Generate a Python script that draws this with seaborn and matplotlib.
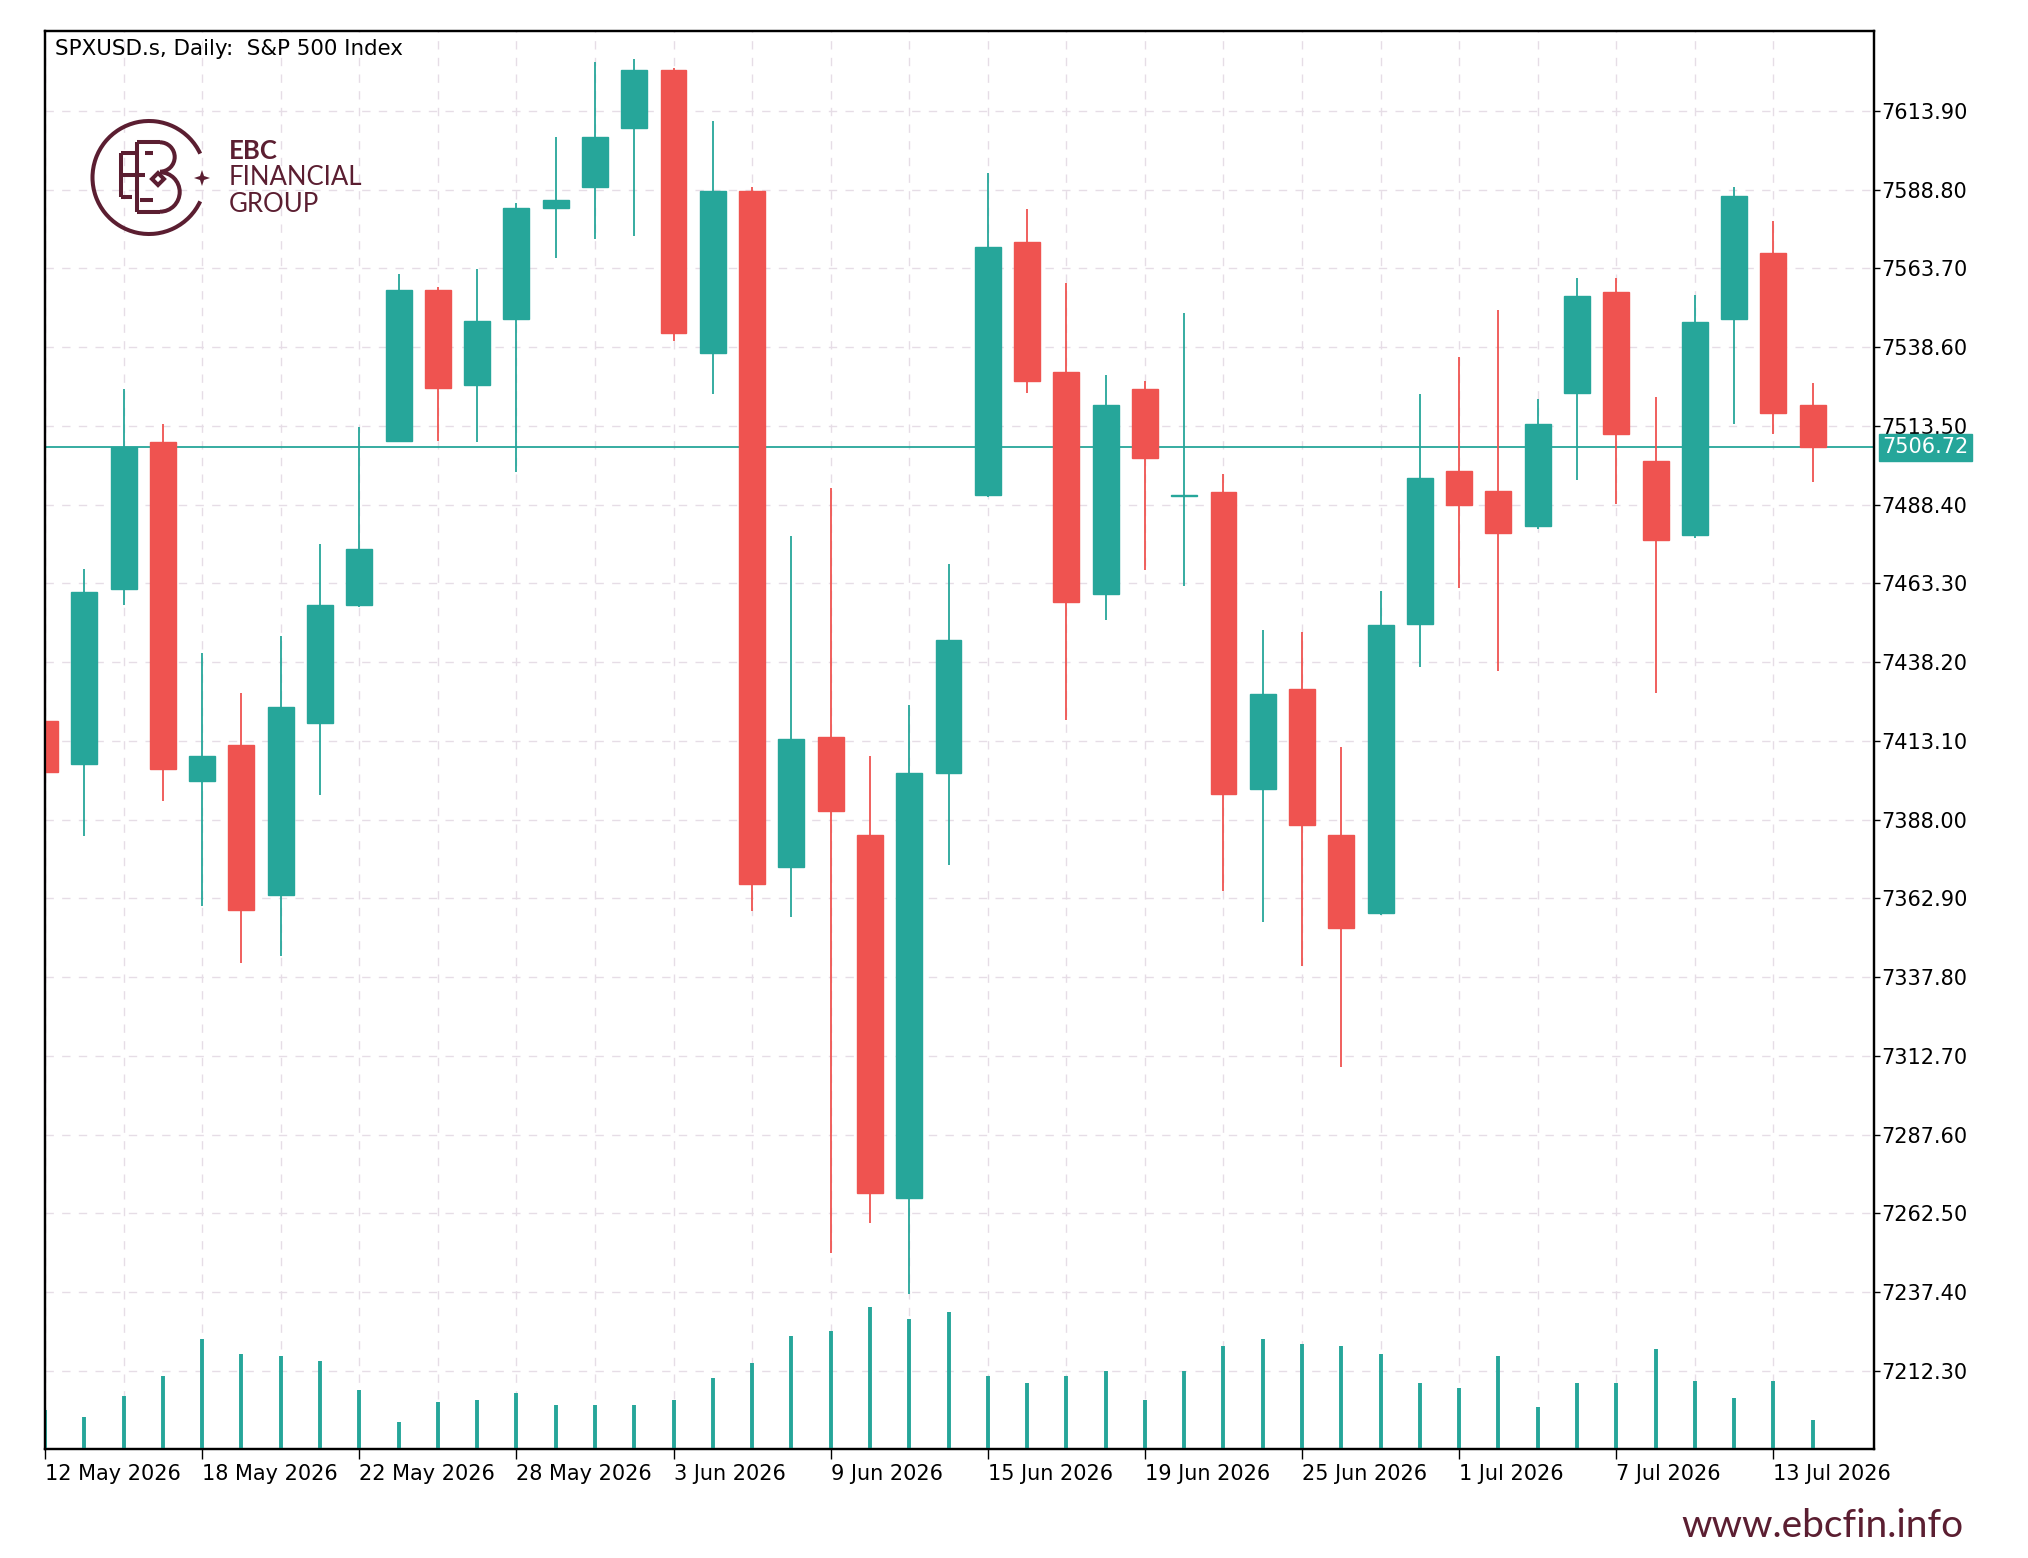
import numpy as np
import pandas as pd
import matplotlib
matplotlib.use("Agg")
import matplotlib.pyplot as plt
import seaborn as sns
from matplotlib.patches import Arc, Polygon

# daily bars, 12 May 2026 .. 14 Jul 2026 (weekdays)
dates = pd.bdate_range("2026-05-12", "2026-07-14")
opens = [7419.4, 7405.8, 7461.4, 7508.4, 7400.4, 7411.9, 7364.1, 7418.9, 7456.5, 7508.8,
         7557.0, 7526.5, 7547.5, 7583.0, 7589.6, 7608.5, 7627.1, 7536.8, 7588.3, 7372.8,
         7414.4, 7383.1, 7267.3, 7402.9, 7491.5, 7572.3, 7530.6, 7459.8, 7525.3, 7491.3,
         7492.3, 7397.9, 7429.7, 7383.1, 7358.4, 7450.3, 7499.3, 7492.7, 7481.6, 7524.1,
         7556.2, 7502.2, 7478.7, 7547.5, 7568.6, 7520.3]
highs = [7423.0, 7468.0, 7525.3, 7514.2, 7441.2, 7428.4, 7446.6, 7475.8, 7513.3, 7562.0,
         7557.8, 7563.6, 7584.6, 7605.7, 7629.6, 7630.4, 7627.5, 7610.6, 7589.6, 7478.3,
         7493.6, 7408.2, 7424.7, 7469.6, 7594.1, 7582.6, 7559.1, 7529.8, 7527.8, 7549.6,
         7498.1, 7448.6, 7447.8, 7411.1, 7461.0, 7523.6, 7535.6, 7550.4, 7522.0, 7560.7,
         7560.7, 7522.8, 7555.4, 7589.6, 7578.9, 7527.3]
lows = [7398.0, 7382.7, 7456.5, 7393.8, 7360.4, 7342.3, 7344.4, 7395.9, 7455.8, 7508.3,
        7508.8, 7508.4, 7498.9, 7566.9, 7573.1, 7573.9, 7540.5, 7523.6, 7358.8, 7357.1,
        7250.0, 7259.5, 7236.8, 7373.6, 7490.7, 7524.1, 7419.8, 7451.5, 7467.6, 7462.6,
        7365.4, 7355.5, 7341.5, 7309.3, 7357.5, 7436.7, 7461.8, 7435.4, 7480.8, 7496.4,
        7488.6, 7428.4, 7477.9, 7514.2, 7510.9, 7495.6]
closes = [7403.3, 7460.6, 7506.7, 7404.1, 7408.2, 7359.2, 7423.9, 7456.5, 7474.2, 7557.0,
          7525.7, 7547.1, 7583.0, 7585.5, 7605.7, 7627.1, 7543.0, 7588.3, 7367.4, 7413.6,
          7390.9, 7268.9, 7402.9, 7445.3, 7570.6, 7527.8, 7457.3, 7520.3, 7503.4, 7491.6,
          7396.3, 7428.0, 7386.4, 7353.4, 7449.9, 7496.9, 7488.2, 7479.5, 7514.2, 7555.0,
          7510.9, 7477.1, 7546.7, 7586.7, 7517.5, 7506.72]
volumes = [30000, 24500, 41500, 56700, 85000, 74000, 72200, 68300, 45600, 20600,
           36100, 37900, 43600, 34000, 34000, 34000, 37900, 54900, 66500, 87400,
           91200, 110000, 100500, 106200, 56700, 51000, 56700, 60500, 37900, 60500,
           79600, 85300, 81400, 79600, 74000, 51000, 47200, 72200, 32200, 51000,
           51000, 77800, 52800, 39700, 52800, 22700]
last_price = 7506.72
price_ticks = [7212.30, 7237.40, 7262.50, 7287.60, 7312.70, 7337.80, 7362.90, 7388.00, 7413.10,
               7438.20, 7463.30, 7488.40, 7513.50, 7538.60, 7563.70, 7588.80, 7613.90]
date_labels = ["12 May 2026", "18 May 2026", "22 May 2026", "28 May 2026", "3 Jun 2026", "9 Jun 2026",
               "15 Jun 2026", "19 Jun 2026", "25 Jun 2026", "1 Jul 2026", "7 Jul 2026", "13 Jul 2026"]

UP = "#26a69a"
DOWN = "#ef5350"
MAROON = "#5b1e31"
GRID = "#e6dde6"

sns.set_theme(style="white")
plt.rcParams["font.family"] = ["DejaVu Sans"]

df = pd.DataFrame({"date": dates, "open": opens, "high": highs, "low": lows,
                   "close": closes, "volume": volumes})
df["x"] = np.arange(len(df))
df["color"] = np.where(df["close"] >= df["open"], UP, DOWN)

fig = plt.figure(figsize=(20.28, 15.58), dpi=100, facecolor="white")
ax = fig.add_axes([45 / 2028, 109 / 1558, 1829 / 2028, 1418 / 1558])
ax.set_facecolor("white")

# volume histogram on a twin axis (above the grid)
axv = ax.twinx()
axv.patch.set_visible(False)
axv.vlines(df["x"], 0, df["volume"], colors=UP, linewidth=2.8)
axv.set_ylim(0, df["volume"].max() / 0.1)
axv.yaxis.set_visible(False)

# candles
ax.vlines(df["x"], df["low"], df["high"], colors=df["color"], linewidth=1.3, zorder=2)
ax.bar(df["x"], (df["close"] - df["open"]).abs(), bottom=df[["open", "close"]].min(axis=1),
       width=0.66, color=df["color"], edgecolor=df["color"], linewidth=1.0, zorder=3)
ax.axhline(last_price, color=UP, linewidth=1.3, zorder=1.5)

ax.set_xlim(0, 46.56)
ax.set_ylim(7187.4, 7639.4)

ax.yaxis.tick_right()
ax.set_yticks(price_ticks)
ax.set_yticklabels([f"{v:.2f}" for v in price_ticks])
ax.tick_params(axis="y", which="major", right=True, left=False, labelright=True, labelleft=False,
               direction="out", length=4, width=1, labelsize=15, pad=1, colors="black")

ax.set_xticks(np.arange(0, len(df), 4))
ax.set_xticklabels(date_labels, ha="left")
ax.set_xticks(np.arange(2, len(df), 4), minor=True)
ax.tick_params(axis="x", which="major", bottom=True, direction="out", length=7, width=1,
               labelsize=15, pad=4, colors="black")
ax.tick_params(axis="x", which="minor", length=0)

ax.grid(True, axis="both", which="major", color=GRID, linestyle=(0, (6, 6)), linewidth=1)
ax.grid(True, axis="x", which="minor", color=GRID, linestyle=(0, (6, 6)), linewidth=1)
ax.set_axisbelow(True)

ax.set_xlabel("")
ax.set_ylabel("")

for a in (ax, axv):
    for s in a.spines.values():
        s.set_visible(True)
        s.set_color("black")
        s.set_linewidth(1.6)

axv.text(0.0055, 0.9873, "SPXUSD.s, Daily:  S&P 500 Index", transform=axv.transAxes,
         ha="left", va="center", fontsize=15.4, color="black")

# last price tag on the price scale
axv.text(1.0045, last_price, f"{last_price:.2f}", transform=ax.get_yaxis_transform(),
         ha="left", va="center", fontsize=15, color="white", zorder=10, clip_on=False,
         bbox=dict(boxstyle="square,pad=0.16", facecolor=UP, edgecolor=UP))

# overlay in pixel coordinates for logo and site name
ov = fig.add_axes([0, 0, 1, 1], facecolor="none")
ov.set_xlim(0, 2028)
ov.set_ylim(1558, 0)
ov.axis("off")

lw = 2.9
ov.add_patch(Arc((149, 177.5), 113, 113, theta1=25, theta2=335, color=MAROON, linewidth=lw))
segs = [[(120.7, 153.3), (120.7, 197.3)], [(120.7, 153.3), (136.7, 153.3)],
        [(120.7, 175), (145, 175)], [(120.7, 197.3), (131.7, 197.3)],
        [(136.7, 142.3), (136.7, 211.7)], [(136.7, 142.3), (160, 142.3)],
        [(136.7, 211.7), (160, 211.7)], [(145, 153.3), (153.3, 153.3)],
        [(140, 200), (153.3, 200)], [(160, 171.7), (166, 171.7)]]
for seg in segs:
    (x0, y0), (x1, y1) = seg
    ov.plot([x0, x1], [y0, y1], color=MAROON, linewidth=lw, solid_capstyle="butt")
ov.add_patch(Arc((160, 157), 29.4, 29.4, theta1=-90, theta2=90, color=MAROON, linewidth=lw))
ov.add_patch(Arc((160, 192), 39.4, 39.4, theta1=-90, theta2=90, color=MAROON, linewidth=lw))
ov.add_patch(Polygon([(158, 173), (164, 179), (158, 185), (152, 179)], closed=True,
                     fill=False, edgecolor=MAROON, linewidth=lw))
ov.add_patch(Polygon([(202, 170), (204, 176), (210, 178), (204, 180), (202, 186), (200, 180),
                      (194, 178), (200, 176)], closed=True, facecolor=MAROON, edgecolor="none"))
ov.text(229, 151, "EBC", fontsize=18.5, fontweight="bold", color=MAROON, ha="left", va="center",
        family=["Lato", "DejaVu Sans"])
ov.text(229, 177, "FINANCIAL", fontsize=18.5, color=MAROON, ha="left", va="center",
        family=["Lato", "DejaVu Sans"])
ov.text(229, 204, "GROUP", fontsize=18.5, color=MAROON, ha="left", va="center",
        family=["Lato", "DejaVu Sans"])
ov.text(1681, 1537, "www.ebcfin.info", fontsize=28, color=MAROON, ha="left", va="baseline",
        family=["Lato", "DejaVu Sans"])

fig.savefig("out.png", dpi=100, facecolor="white")
